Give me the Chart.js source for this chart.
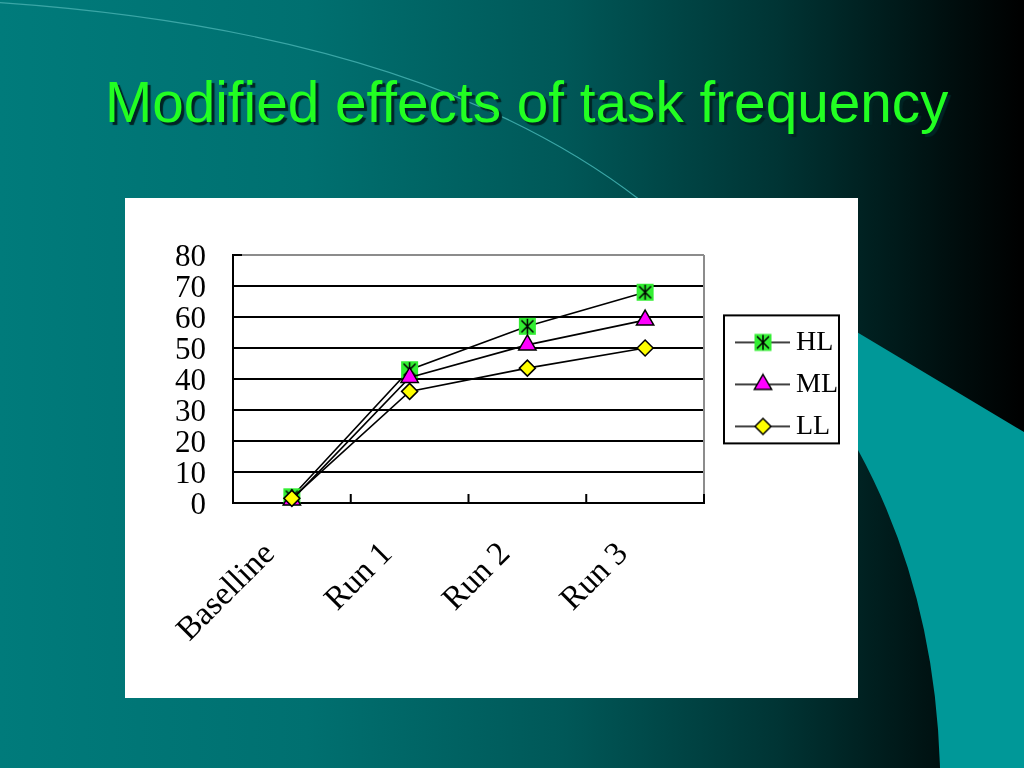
<!DOCTYPE html>
<html><head><meta charset="utf-8">
<script src="https://cdn.jsdelivr.net/npm/chart.js@4.4.1/dist/chart.umd.min.js"></script>
<style>
html,body{margin:0;padding:0;width:1024px;height:768px;overflow:hidden;}
body{position:relative;background:linear-gradient(90deg,#007b7b 0%,#007070 30%,#005858 55%,#003434 76%,#001010 92%,#000 100%);font-family:"Liberation Sans",Arial,sans-serif;}
#deco{position:absolute;left:0;top:0;}
#title{position:absolute;left:105px;top:74px;font-size:56.7px;line-height:57px;color:#22ff22;text-shadow:3px 3px 1px #002424;white-space:nowrap;}
#box{position:absolute;left:125px;top:198px;width:733px;height:500px;background:#fff;}
#c{display:block;}
</style></head><body>
<svg id="deco" width="1024" height="768">
  <path d="M -10 2 Q 420 30 640 200" stroke="#3aa6a6" stroke-width="1.2" fill="none"/>
  <path d="M 800 298 L 1024 432 L 1024 768 L 940 768 Q 935 591 858 450 Q 830 400 800 360 Z" fill="#009898"/>
</svg>
<div id="title">Modified effects of task frequency</div>
<div id="box"><canvas id="c" width="733" height="500"></canvas></div>
<script>
// ---- data ----
const categories = ['Baselline', 'Run 1', 'Run 2', 'Run 3'];
const seriesNames = ['HL', 'ML', 'LL'];
const hlValues = [2, 43, 57, 68];
const mlValues = [1, 40.5, 51, 59];
const llValues = [1.5, 36, 43.5, 50];
const yMin = 0, yMax = 80, yStep = 10;

// ---- styles ----
const FONT = 'Liberation Serif';
const HL_FILL = '#33ee33', ML_FILL = '#ff00ff', LL_FILL = '#ffff00';

function drawMarker(g, kind, cx, cy) {
  g.lineWidth = 1.5; g.strokeStyle = '#000';
  if (kind === 'HL') {
    g.fillStyle = HL_FILL; g.fillRect(cx - 8.5, cy - 8.5, 17, 17);
    g.beginPath();
    g.moveTo(cx, cy - 7.5); g.lineTo(cx, cy + 7.5);
    g.moveTo(cx - 6, cy - 6); g.lineTo(cx + 6, cy + 6);
    g.moveTo(cx + 6, cy - 6); g.lineTo(cx - 6, cy + 6);
    g.stroke();
  } else if (kind === 'ML') {
    const r = 10;
    g.fillStyle = ML_FILL; g.beginPath();
    g.moveTo(cx, cy - r); g.lineTo(cx + r * 0.866, cy + r * 0.5); g.lineTo(cx - r * 0.866, cy + r * 0.5); g.closePath();
    g.fill(); g.stroke();
  } else {
    const r = 8;
    g.fillStyle = LL_FILL; g.beginPath();
    g.moveTo(cx, cy - r); g.lineTo(cx + r, cy); g.lineTo(cx, cy + r); g.lineTo(cx - r, cy); g.closePath();
    g.fill(); g.stroke();
  }
}
function hlPointImg() {
  const c = document.createElement('canvas'); c.width = 19; c.height = 19;
  drawMarker(c.getContext('2d'), 'HL', 9.5, 9.5); return c;
}
function legendImg(kind) {
  const c = document.createElement('canvas'); c.width = 84; c.height = 24;
  const g = c.getContext('2d');
  g.strokeStyle = '#000'; g.lineWidth = 1.5;
  g.beginPath(); g.moveTo(27, 12); g.lineTo(82, 12); g.stroke();
  drawMarker(g, kind, 55, 12); return c;
}
const legendImgs = seriesNames.map(legendImg);

const framePlugin = {
  id: 'frame',
  beforeDatasetsDraw(chart) {
    const {ctx, chartArea: a} = chart;
    const sx = chart.scales.x;
    ctx.save();
    ctx.strokeStyle = '#8c8c8c'; ctx.lineWidth = 2;
    ctx.beginPath(); ctx.moveTo(a.right, a.top); ctx.lineTo(a.right, a.bottom); ctx.stroke();
    ctx.strokeStyle = '#000'; ctx.lineWidth = 2;
    ctx.beginPath(); ctx.moveTo(a.left, a.top); ctx.lineTo(a.left + 9, a.top); ctx.stroke();
    const half = (sx.getPixelForValue(1) - sx.getPixelForValue(0)) / 2;
    ctx.beginPath();
    for (let i = 0; i <= categories.length; i++) {
      const x = sx.getPixelForValue(i) - half;
      ctx.moveTo(x, a.bottom); ctx.lineTo(x, a.bottom - 9);
    }
    ctx.stroke();
    ctx.restore();
  },
  afterDraw(chart) {
    const lg = chart.legend; if (!lg || !lg.legendHitBoxes || !lg.legendHitBoxes.length) return;
    const hb = lg.legendHitBoxes;
    const ctx = chart.ctx;
    const left = lg.left + 20, right = left + 115;
    const top = hb[0].top + hb[0].height / 2 - 27;
    const last = hb[hb.length - 1];
    const bottom = last.top + last.height / 2 + 17;
    ctx.save(); ctx.strokeStyle = '#000'; ctx.lineWidth = 2;
    ctx.strokeRect(left, top, right - left, bottom - top);
    ctx.restore();
  }
};

const ds = (label, data, extra, order) => Object.assign({
  label, data, borderColor: '#000', borderWidth: 1.6, tension: 0, fill: false,
  pointBorderColor: '#000', pointBorderWidth: 1.5, clip: false, order
}, extra);

new Chart(document.getElementById('c'), {
  type: 'line',
  data: {
    labels: categories,
    datasets: [
      ds(seriesNames[0], hlValues, {pointStyle: hlPointImg(), pointRadius: 9}, 3),
      ds(seriesNames[1], mlValues, {pointStyle: 'triangle', pointRadius: 10, pointBackgroundColor: ML_FILL}, 2),
      ds(seriesNames[2], llValues, {pointStyle: 'rectRot', pointRadius: 8, pointBackgroundColor: LL_FILL}, 1)
    ]
  },
  options: {
    responsive: false, animation: false,
    layout: {padding: {top: 57, right: 10, left: 0, bottom: 0}},
    plugins: {
      title: {display: false}, tooltip: {enabled: false},
      legend: {
        position: 'right', fullSize: false, align: 'center',
        title: {display: true, text: ' ', padding: 0, font: {size: 9, lineHeight: 1.2}},
        labels: {
          usePointStyle: true, pointStyleWidth: 64, padding: 14, color: '#000',
          font: {family: FONT, size: 28},
          generateLabels: (chart) => chart.data.datasets.map((d, i) => ({
            text: d.label, pointStyle: legendImgs[i], fillStyle: 'rgba(0,0,0,0)',
            strokeStyle: 'rgba(0,0,0,0)', lineWidth: 0, hidden: false, datasetIndex: i, fontColor: '#000'
          }))
        }
      }
    },
    scales: {
      x: {
        type: 'category', offset: true,
        grid: {display: false, drawTicks: false},
        border: {display: true, color: '#000', width: 2},
        ticks: {autoSkip: false, minRotation: 45, maxRotation: 45, padding: 32, labelOffset: -22,
                color: '#000', font: {family: FONT, size: 33}},
        afterFit: (s) => { s.height = 195; }
      },
      y: {
        min: yMin, max: yMax,
        grid: {color: (c) => (c.tick && c.tick.value === yMax ? '#8c8c8c' : '#000'),
               lineWidth: 2, drawTicks: false},
        border: {display: true, color: '#000', width: 2},
        ticks: {stepSize: yStep, autoSkip: false, padding: 27, labelOffset: 3, color: '#000',
                font: {family: FONT, size: 31, lineHeight: 1}},
        afterFit: (s) => { s.width = 108; }
      }
    }
  },
  plugins: [framePlugin]
});
</script>
</body></html>
